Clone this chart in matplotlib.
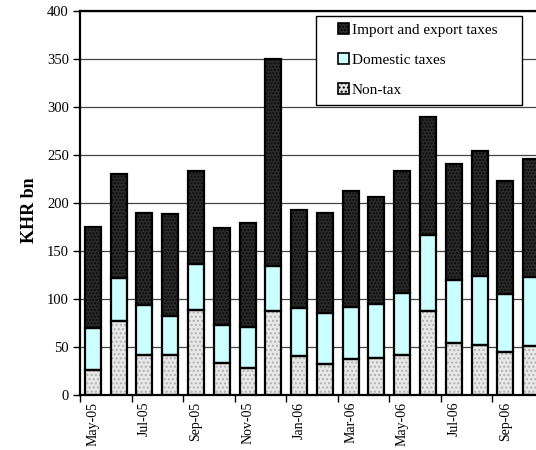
import numpy as np
import matplotlib
matplotlib.use("Agg")
import matplotlib.pyplot as plt
from matplotlib.patches import Patch, Rectangle

# Dữ liệu (KHR bn)
months = ['May-05', 'Jun-05', 'Jul-05', 'Aug-05', 'Sep-05', 'Oct-05', 'Nov-05', 'Dec-05',
          'Jan-06', 'Feb-06', 'Mar-06', 'Apr-06', 'May-06', 'Jun-06', 'Jul-06', 'Aug-06',
          'Sep-06', 'Oct-06']
non_tax = [26, 77, 42, 42, 89, 33, 28, 87, 41, 32, 37, 39, 42, 87, 54, 52, 45, 51]
domestic = [44, 45, 52, 40, 47, 40, 43, 47, 50, 53, 55, 56, 64, 80, 66, 72, 60, 72]
import_export = [105, 108, 96, 107, 97, 101, 108, 216, 102, 105, 120, 111, 127, 123, 121, 130, 118, 123]

plt.rcParams['font.family'] = ['Liberation Serif', 'DejaVu Serif']

fig = plt.figure(figsize=(5.36, 4.5), dpi=100)
ax = fig.add_axes([80 / 536, 1 - 395 / 450, 464 / 536, 384 / 450])

x = np.arange(len(months))
w = 0.62
b1 = np.array(non_tax)
b2 = b1 + np.array(domestic)

# các lớp: giá trị, đáy, màu nền, màu chấm, kiểu chấm
layers = [
    (non_tax, 0, '#e8e8e8', '#b0b0b0', '....'),
    (domestic, b1, '#ccffff', None, None),
    (import_export, b2, '#2a2a2a', '#0a0a0a', '.....'),
]
for vals, bottom, fc, hc, hatch in layers:
    if hatch:
        ax.bar(x, vals, w, bottom=bottom, color=fc, edgecolor=hc, linewidth=0, hatch=hatch, zorder=2)
    else:
        ax.bar(x, vals, w, bottom=bottom, color=fc, linewidth=0, zorder=2)
    ax.bar(x, vals, w, bottom=bottom, fill=False, edgecolor='black', linewidth=1.6, zorder=3)

ax.set_xlim(-0.5, len(months) - 0.5)
ax.set_ylim(0, 400)
ax.set_yticks(range(0, 401, 50))
ax.yaxis.grid(True, color='#444444', linewidth=0.9, zorder=0)
ax.set_axisbelow(True)

ax.set_xticks(np.arange(-0.5, len(months), 2))
ax.set_xticklabels([])
ax.set_xticks(x[::2], minor=True)
ax.set_xticklabels(months[::2], minor=True, rotation=90, fontsize=10)
ax.tick_params(axis='x', which='minor', length=0, pad=5)
ax.tick_params(axis='x', which='major', length=5, width=1, direction='out')
ax.tick_params(axis='y', length=5, width=1, direction='out', labelsize=10.5, pad=3)

for s in ['left', 'top', 'bottom']:
    ax.spines[s].set_linewidth(1.6)
ax.spines['right'].set_visible(False)

ax.set_ylabel('KHR bn', fontsize=13, fontweight='bold')
ax.yaxis.set_label_coords((38 - 80) / 464, (395 - 210) / 384)

# khung chú thích vẽ riêng
fig.patches.append(Rectangle((316 / 536, 1 - 105 / 450), 206 / 536, 89 / 450,
                             transform=fig.transFigure, facecolor='white',
                             edgecolor='black', linewidth=1.0, zorder=5))
handles = [
    Patch(facecolor='#2a2a2a', edgecolor='black', hatch='.....', linewidth=1.2),
    Patch(facecolor='#ccffff', edgecolor='black', linewidth=1.2),
    Patch(facecolor='#e8e8e8', edgecolor='black', hatch='....', linewidth=1.2),
]
leg = fig.legend(handles, ['Import and export taxes', 'Domestic taxes', 'Non-tax'],
                 loc='upper left', bbox_to_anchor=(338 / 536, 1 - 23 / 450),
                 fontsize=11, frameon=False,
                 handlelength=0.75, handleheight=0.75, handletextpad=0.15,
                 labelspacing=1.05, borderpad=0, borderaxespad=0)
leg.set_zorder(6)

fig.savefig('out.png', dpi=100)
